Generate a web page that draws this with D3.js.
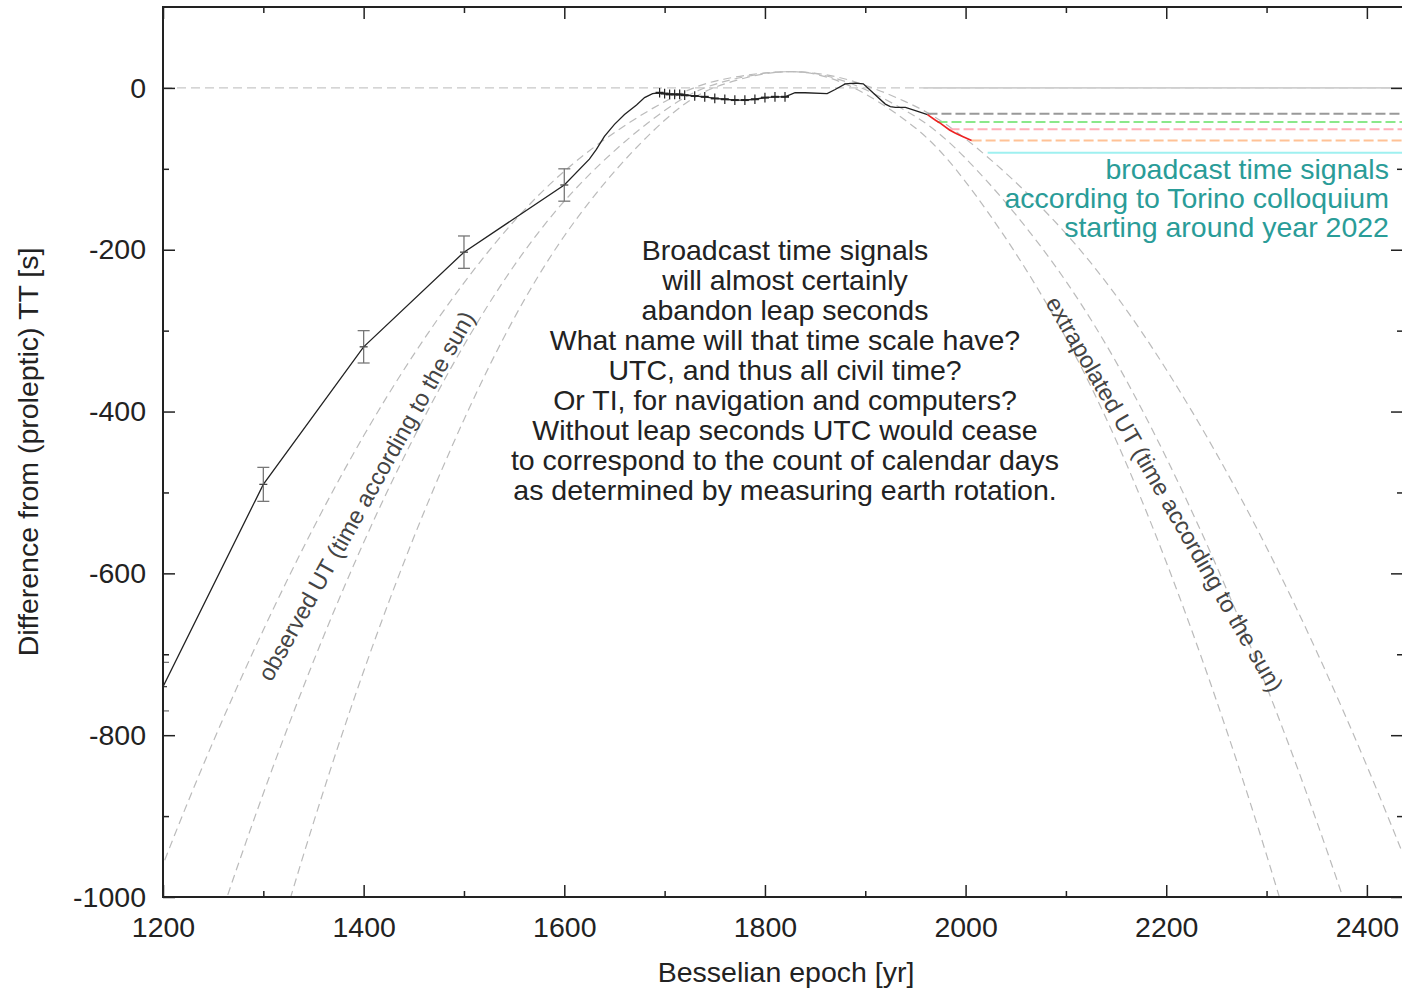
<!DOCTYPE html>
<html>
<head>
<meta charset="utf-8">
<script src="https://cdn.jsdelivr.net/npm/d3@7"></script>
<style>
  body { margin: 0; background: #fff; }
  text { font-family: "Liberation Sans", Arial, Helvetica, sans-serif; }
</style>
</head>
<body>
<div id="chart"></div>
<script>
const margin = {top: 7, right: -1, bottom: 93, left: 163};
const W = 1402, H = 990;
const fontSize = 28.5

// observed UT - TT (black curve)
const obsYears = [1200, 1300, 1400, 1500, 1600, 1625, 1632, 1640, 1650, 1660, 1672, 1680, 1688, 1695, 1700, 1710, 1720, 1730, 1740, 1750, 1760, 1770, 1780, 1790, 1800, 1810, 1820, 1830, 1840, 1862, 1870, 1880, 1890, 1898, 1905, 1912, 1920, 1925, 1930, 1940, 1950, 1962]
const obsValues = [-740, -490, -320, -203, -120, -88, -76, -60, -45, -33, -21, -12, -7, -6, -7, -8, -9, -10, -11, -13, -14, -15, -15, -14, -12, -11, -11, -6, -6, -7, -2, 5, 6, 5, -3, -11, -20, -23, -24, -24, -28, -33]

// modern measurements (red)
const modYears = [1962, 1970, 1974, 1984, 1990, 1997, 2006]
const modValues = [-33, -40, -43, -52, -56, -60, -65]

// big error bars
const errYears = [1200, 1300, 1400, 1500, 1600]
const errValues = [-740, -490, -320, -203, -120]
const errSize = [30, 21, 20, 20, 20]

// small error bars (telescopic era)
const crossYears = [1695, 1700, 1705, 1710, 1715, 1720, 1730, 1740, 1750, 1760, 1770, 1780, 1790, 1800, 1810, 1820]
const crossValues = [-6, -7, -8, -8, -8, -9, -10, -11, -13, -14, -15, -15, -14, -12, -11, -11]
const crossSize = 6

// parabolic fits
const parYears = [1100, 1200, 1300, 1400, 1500, 1600, 1700, 1760, 1820, 1880, 1940, 2000, 2100, 2200, 2300, 2400, 2500, 2600]
const parOuter = [-1302, -960, -670, -430, -241, -103, -17, 11, 20, 11, -17, -63, -180, -348, -568, -838, -1159, -1531]
const parMiddle = [-1691, -1249, -872, -562, -318, -140, -28, 8, 20, 8, -28, -87, -239, -457, -740, -1090, -1506, -1988]
const parInner = [-2157, -1594, -1116, -721, -410, -183, -40, 5, 20, 5, -40, -116, -309, -586, -948, -1393, -1922, -2535]

// time scales (horizontal lines)
const scaleValues = [-32, -42, -51, -65, -80]
const scaleStarts = [1962, 1972, 1984, 2006, 2022]
const scaleColors = ["#999999", "#8ae88a", "#ffb0ba", "#ffc296", "#9ff0f0"]
const scaleDash = ["10,4", "10,4", "10,4", "10,4", null]
const ttStart = 1958

const xTicks = [1200, 1400, 1600, 1800, 2000, 2200, 2400]
const xMinor = [1300, 1500, 1700, 1900, 2100, 2300]
const yTicks = [-1000, -800, -600, -400, -200, 0]
const yMinor = [-900, -700, -500, -300, -100]

const centerText = [
  "Broadcast time signals",
  "will almost certainly",
  "abandon leap seconds",
  "What name will that time scale have?",
  "UTC, and thus all civil time?",
  "Or TI, for navigation and computers?",
  "Without leap seconds UTC would cease",
  "to correspond to the count of calendar days",
  "as determined by measuring earth rotation."
]
const tealText = [
  "broadcast time signals",
  "according to Torino colloquium",
  "starting around year 2022"
]

const width = W - margin.left - margin.right
const height = H - margin.top - margin.bottom

const svg = d3.select("#chart").append("svg")
  .attr("width", W).attr("height", H)

const g = svg.append("g").attr("transform", `translate(${margin.left},${margin.top})`)

const x = d3.scaleLinear().domain([1200, 2436]).range([0, width])
const y = d3.scaleLinear().domain([-1000, 100]).range([height, 0])

svg.append("defs").append("clipPath").attr("id", "plotclip")
  .append("rect").attr("width", width).attr("height", height)

const plot = g.append("g").attr("clip-path", "url(#plotclip)")

// zero axis
plot.append("line")
  .attr("x1", 0).attr("x2", width)
  .attr("y1", y(0)).attr("y2", y(0))
  .attr("stroke", "#c8c8c8").attr("stroke-width", 1.3)
  .attr("stroke-dasharray", "9,5")

plot.append("line")
  .attr("x1", x(ttStart)).attr("x2", width)
  .attr("y1", y(0)).attr("y2", y(0))
  .attr("stroke", "#cfcfcf").attr("stroke-width", 1.6)

// parabolas
const parLine = d3.line().x((d, i) => x(parYears[i])).y(d => y(d)).curve(d3.curveNatural)
;[parOuter, parMiddle, parInner].forEach(p => {
  plot.append("path")
    .attr("d", parLine(p))
    .attr("fill", "none")
    .attr("stroke", "#bbbbbb")
    .attr("stroke-width", 1.2)
    .attr("stroke-dasharray", "8,5")
})

// time scale lines
scaleValues.forEach((v, i) => {
  plot.append("line")
    .attr("x1", x(scaleStarts[i])).attr("x2", width)
    .attr("y1", y(v)).attr("y2", y(v))
    .attr("stroke", scaleColors[i])
    .attr("stroke-width", 2)
    .attr("stroke-dasharray", scaleDash[i])
})

// observed curve
plot.append("path")
  .attr("d", d3.line().x((d, i) => x(obsYears[i])).y(d => y(d))(obsValues))
  .attr("fill", "none").attr("stroke", "#222").attr("stroke-width", 1.3)

plot.append("path")
  .attr("d", d3.line().x((d, i) => x(modYears[i])).y(d => y(d))(modValues))
  .attr("fill", "none").attr("stroke", "#ee2222").attr("stroke-width", 1.6)

// big error bars
errYears.forEach((yr, i) => {
  const cx = x(yr), v = errValues[i], e = errSize[i]
  const eb = plot.append("g").attr("stroke", "#777").attr("stroke-width", 1.3)
  eb.append("line").attr("x1", cx).attr("x2", cx).attr("y1", y(v + e)).attr("y2", y(v - e))
  eb.append("line").attr("x1", cx - 6).attr("x2", cx + 6).attr("y1", y(v + e)).attr("y2", y(v + e))
  eb.append("line").attr("x1", cx - 6).attr("x2", cx + 6).attr("y1", y(v - e)).attr("y2", y(v - e))
  eb.append("line").attr("x1", cx - 4).attr("x2", cx + 4).attr("y1", y(v)).attr("y2", y(v)).attr("stroke", "#444")
})

// small error bars
crossYears.forEach((yr, i) => {
  const cx = x(yr), v = crossValues[i]
  const cb = plot.append("g").attr("stroke", "#222").attr("stroke-width", 1.2)
  cb.append("line").attr("x1", cx).attr("x2", cx).attr("y1", y(v + crossSize)).attr("y2", y(v - crossSize))
  cb.append("line").attr("x1", cx - 4).attr("x2", cx + 4).attr("y1", y(v)).attr("y2", y(v)).attr("stroke-width", 2)
})

// axes, ticks inward on all sides
const tickFont = sel => {
  sel.select(".domain").remove()
  sel.selectAll("line").attr("stroke", "#222").attr("stroke-width", 1.5)
  sel.selectAll("text").attr("font-size", fontSize).attr("fill", "#222")
    .style("font-family", '"Liberation Sans", Arial, sans-serif')
}

g.append("g").attr("transform", `translate(0,${height})`)
  .call(d3.axisBottom(x).tickValues(xTicks).tickSize(-12).tickPadding(20).tickFormat(d3.format("d")))
  .call(tickFont)
g.append("g").attr("transform", `translate(0,${height})`)
  .call(d3.axisBottom(x).tickValues(xMinor).tickSize(-6).tickFormat(""))
  .call(tickFont)
g.append("g")
  .call(d3.axisTop(x).tickValues(xTicks).tickSize(-12).tickFormat(""))
  .call(tickFont)
g.append("g")
  .call(d3.axisTop(x).tickValues(xMinor).tickSize(-6).tickFormat(""))
  .call(tickFont)

g.append("g")
  .call(d3.axisLeft(y).tickValues(yTicks).tickSize(-12).tickPadding(17).tickFormat(d => d))
  .call(tickFont)
g.append("g")
  .call(d3.axisLeft(y).tickValues(yMinor).tickSize(-6).tickFormat(""))
  .call(tickFont)
g.append("g").attr("transform", `translate(${width},0)`)
  .call(d3.axisRight(y).tickValues(yTicks).tickSize(-12).tickFormat(""))
  .call(tickFont)
g.append("g").attr("transform", `translate(${width},0)`)
  .call(d3.axisRight(y).tickValues(yMinor).tickSize(-6).tickFormat(""))
  .call(tickFont)

g.append("rect")
  .attr("width", width).attr("height", height)
  .attr("fill", "none").attr("stroke", "#222").attr("stroke-width", 2)

// axis titles
svg.append("text")
  .attr("x", margin.left + x(1821)).attr("y", 982)
  .attr("text-anchor", "middle").attr("font-size", fontSize).attr("fill", "#222")
  .text("Besselian epoch [yr]")

svg.append("text")
  .attr("transform", `translate(38,452) rotate(-90)`)
  .attr("text-anchor", "middle").attr("font-size", fontSize).attr("fill", "#222")
  .text("Difference from (proleptic) TT [s]")

// center annotation
const ct = g.append("text").attr("text-anchor", "middle").attr("font-size", fontSize).attr("fill", "#222")
centerText.forEach((t, i) => {
  ct.append("tspan").attr("x", x(1820)).attr("y", 253 + i * 30).text(t)
})

const tt = g.append("text").attr("text-anchor", "end").attr("font-size", fontSize).attr("fill", "#2a9c98")
tealText.forEach((t, i) => {
  tt.append("tspan").attr("x", x(2422)).attr("y", 172 + i * 29).text(t)
})

// rotated labels along the parabolas
g.append("text")
  .attr("transform", `translate(${368 - margin.left},${497 - margin.top}) rotate(-60.8)`)
  .attr("text-anchor", "middle").attr("dominant-baseline", "middle")
  .attr("font-size", 23.5).attr("fill", "#444")
  .text("observed UT (time according to the sun)")

g.append("text")
  .attr("transform", `translate(${1163 - margin.left},${495 - margin.top}) rotate(60.1)`)
  .attr("text-anchor", "middle").attr("dominant-baseline", "middle")
  .attr("font-size", 23.5).attr("fill", "#444")
  .text("extrapolated UT (time according to the sun)")
</script>
</body>
</html>
